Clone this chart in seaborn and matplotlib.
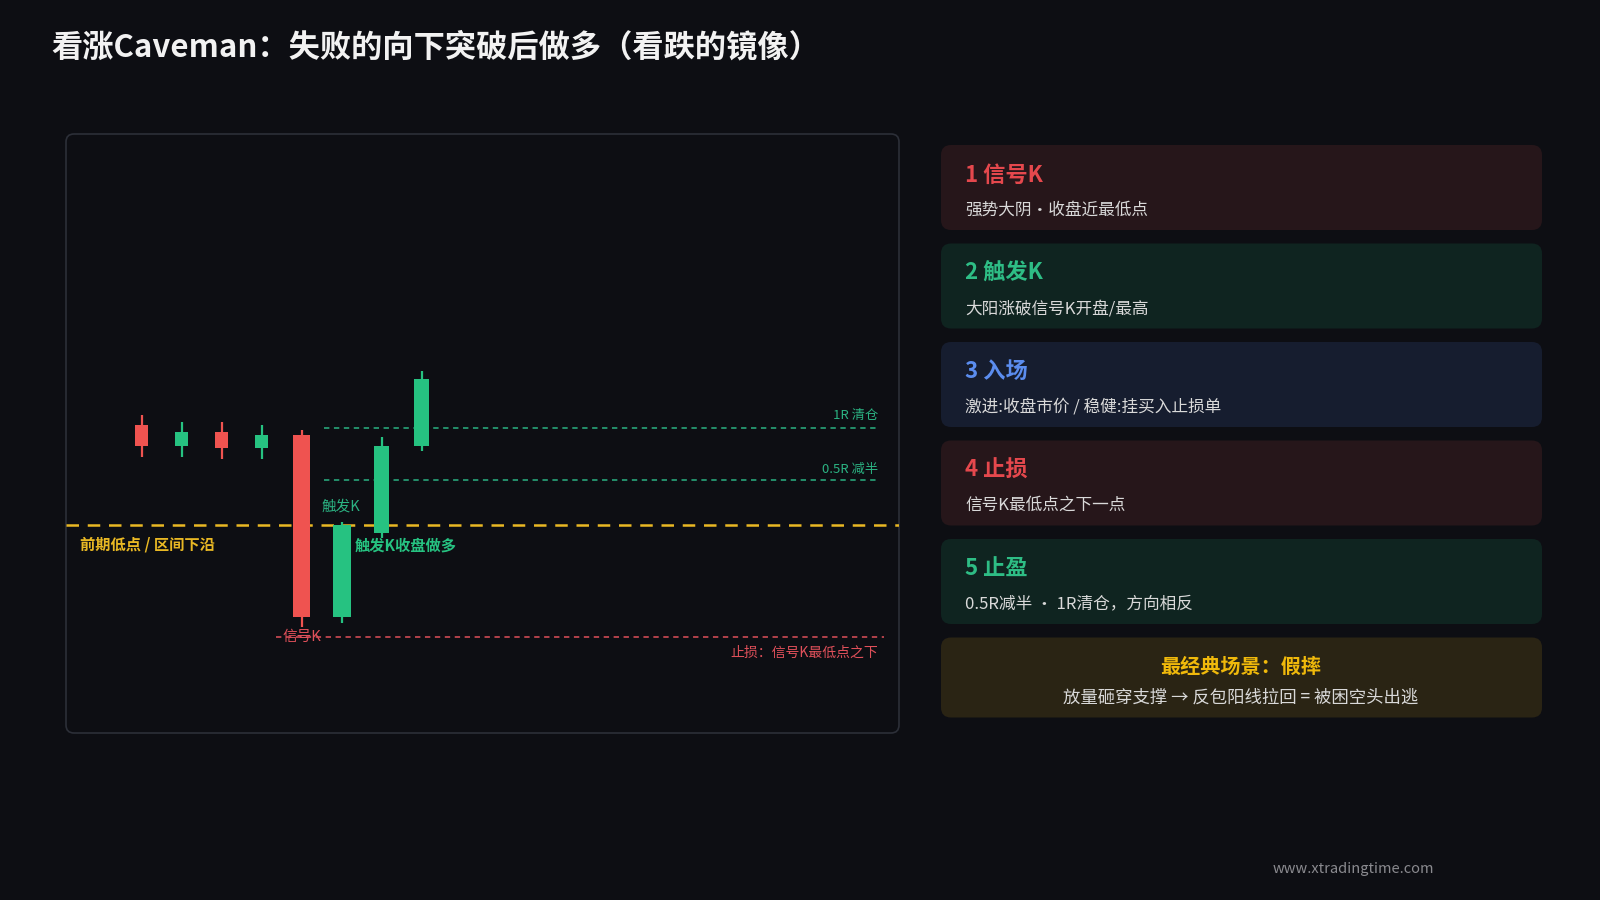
import numpy as np
import pandas as pd
import seaborn as sns
import matplotlib
matplotlib.use("Agg")
import matplotlib.pyplot as plt
from matplotlib.patches import FancyBboxPatch

# ---------------- data ----------------
candle_idx = [0, 1, 2, 3, 4, 5, 6, 7]
opens  = [110.0, 107.9, 109.3, 107.7, 109.0, 90.8, 99.2, 107.9]
closes = [107.9, 109.3, 107.7, 109.0, 90.8, 100.0, 107.9, 114.6]
highs  = [111.0, 110.3, 110.3, 110.0, 109.5, 100.3, 108.8, 115.4]
lows   = [106.8, 106.8, 106.6, 106.6, 89.8, 90.2, 98.7, 107.4]

support_level = 100.0
half_r_level = 104.5
full_r_level = 109.7
stop_level = 88.75

title = "看涨Caveman：失败的向下突破后做多（看跌的镜像）"
card_titles = ["1 信号K", "2 触发K", "3 入场", "4 止损", "5 止盈"]
card_texts = ["强势大阴·收盘近最低点", "大阳涨破信号K开盘/最高",
              "激进:收盘市价 / 稳健:挂买入止损单", "信号K最低点之下一点",
              "0.5R减半 · 1R清仓，方向相反"]
summary_title = "最经典场景：假摔"
summary_text = "放量砸穿支撑 → 反包阳线拉回 = 被困空头出逃"
watermark = "www.xtradingtime.com"

# ---------------- style ----------------
BG = "#0d0e13"
RED = "#ef5350"
GREEN = "#26c281"
YELLOW = "#e9b824"
sns.set_theme(style="dark")
plt.rcParams["font.family"] = ["Noto Sans CJK SC", "DejaVu Sans"]
plt.rcParams["axes.unicode_minus"] = False

fig = plt.figure(figsize=(16, 9), dpi=100, facecolor=BG)

# overlay axes in pixel coordinates
ov = fig.add_axes([0, 0, 1, 1], zorder=0)
ov.set_xlim(0, 1600)
ov.set_ylim(900, 0)
ov.axis("off")
ov.set_facecolor("none")

ov.text(51, 47, title, color="#f2f2f2", fontsize=22.5, fontweight="bold",
        va="center", ha="left")

# chart panel border
ov.add_patch(FancyBboxPatch((66, 134), 833, 599,
                            boxstyle="round,pad=0,rounding_size=8",
                            facecolor="none", edgecolor="#2c2f38", lw=1.2))

# cards
card_bg = ["#26161a", "#0f2420", "#161d2f", "#26161a", "#0f2420"]
card_fg = ["#e5484d", "#2ebd85", "#5b8def", "#e5484d", "#2ebd85"]
card_top = 145
card_h = 85
card_step = 98.5
for i, (t, s) in enumerate(zip(card_titles, card_texts)):
    y0 = card_top + i * card_step
    ov.add_patch(FancyBboxPatch((941, y0), 601, card_h,
                                boxstyle="round,pad=0,rounding_size=10",
                                facecolor=card_bg[i], edgecolor="none"))
    ov.text(965, y0 + 30, t, color=card_fg[i], fontsize=16, fontweight="bold",
            va="center", ha="left")
    ov.text(965, y0 + 65, s, color="#d9d9d9", fontsize=12,
            va="center", ha="left")

y6 = card_top + 5 * card_step
ov.add_patch(FancyBboxPatch((941, y6), 601, 80,
                            boxstyle="round,pad=0,rounding_size=10",
                            facecolor="#2a2414", edgecolor="none"))
ov.text(1241, y6 + 29, summary_title, color="#f0b90b", fontsize=14.5,
        fontweight="bold", va="center", ha="center")
ov.text(1241, y6 + 60, summary_text, color="#d9d9d9", fontsize=12.5,
        va="center", ha="center")

ov.text(1353, 869, watermark, color="#8a8a8f", fontsize=10.5,
        va="center", ha="center")

# ---------------- candle chart ----------------
ax = fig.add_axes([66 / 1600, (900 - 733) / 900, 833 / 1600, 599 / 900], zorder=2)
ax.set_facecolor("none")
for sp in ax.spines.values():
    sp.set_visible(False)
ax.set_xticks([])
ax.set_yticks([])
ax.grid(False)
ax.set_xlim(-1.89, 18.93)
ax.set_ylim(79.2, 139.1)

df = pd.DataFrame({"x": candle_idx, "open": opens, "close": closes,
                   "high": highs, "low": lows})
df["up"] = df["close"] >= df["open"]
df["color"] = np.where(df["up"], GREEN, RED)
widths = [0.33, 0.33, 0.33, 0.33, 0.42, 0.45, 0.38, 0.38]

ax.vlines(df["x"], df["low"], df["high"], colors=df["color"], lw=1.6, zorder=3)
ax.bar(df["x"], (df["close"] - df["open"]).abs(),
       bottom=df[["open", "close"]].min(axis=1), width=widths,
       color=df["color"], edgecolor="none", zorder=4)

# levels
ax.axhline(support_level, color=YELLOW, lw=1.8, ls=(0, (5, 3.5)), zorder=2)
ax.hlines([full_r_level, half_r_level], 4.57, 18.42, colors="#2bb282",
          lw=1.1, ls=(0, (3.5, 3)), zorder=2)
ax.hlines(stop_level, 3.37, 18.55, colors="#e0505a", lw=1.1,
          ls=(0, (3.5, 3)), zorder=2)

# labels
ax.text(18.42, 110.9, "1R 清仓", color="#2bb282", fontsize=9.5,
        ha="right", va="center")
ax.text(18.42, 105.56, "0.5R 减半", color="#2bb282", fontsize=9.5,
        ha="right", va="center")
ax.text(18.42, 87.2, "止损：信号K最低点之下", color="#e0505a", fontsize=10,
        ha="right", va="center")
ax.text(4.0, 88.8, "信号K", color="#e0505a", fontsize=10.5,
        ha="center", va="center", zorder=5)
ax.text(4.99, 101.8, "触发K", color="#2bb282", fontsize=10.5,
        ha="center", va="center")
ax.text(5.33, 97.9, "触发K收盘做多", color=GREEN, fontsize=11,
        fontweight="bold", ha="left", va="center")
ax.text(-1.54, 98.0, "前期低点 / 区间下沿", color=YELLOW, fontsize=11,
        fontweight="bold", ha="left", va="center")

fig.savefig("out.png", dpi=100, facecolor=BG)
